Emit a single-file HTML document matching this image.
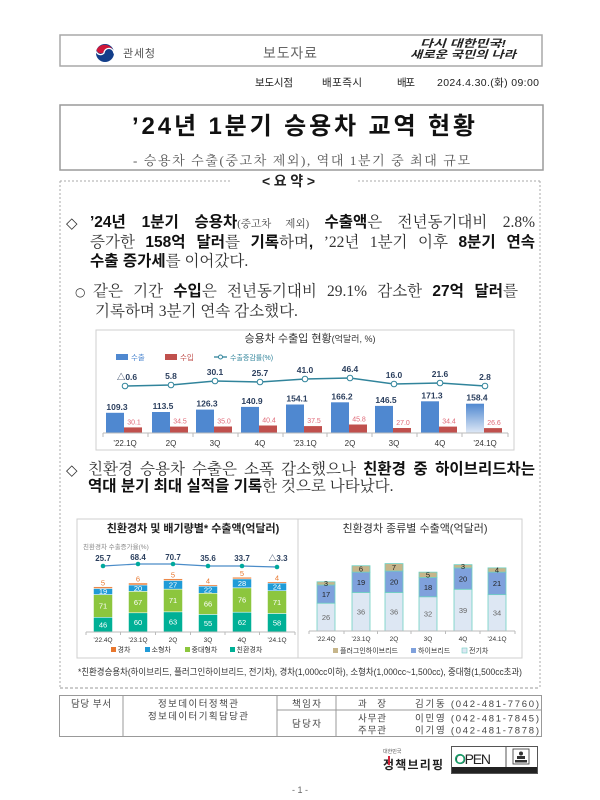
<!DOCTYPE html>
<html><head><meta charset="utf-8">
<style>
html,body{margin:0;padding:0;background:#fff;}
body{width:600px;height:800px;position:relative;overflow:hidden;}
.l{position:absolute;font-family:"Liberation Serif","Noto Serif CJK SC",serif;font-size:15.5px;line-height:20px;color:#333;}
.j{text-align:justify;text-align-last:justify;}
.l b{font-family:"Liberation Sans","Noto Sans CJK KR",sans-serif;font-weight:700;color:#111;}
.l small{font-size:10.5px;color:#444;}
.sym{position:absolute;font-family:"DejaVu Sans",sans-serif;font-size:15px;line-height:20px;color:#333;}
svg{position:absolute;left:0;top:0;}
svg text{font-family:"Liberation Sans","Noto Sans CJK KR",sans-serif;}
</style></head><body>
<svg width="600" height="800" viewBox="0 0 600 800">
<defs>
<linearGradient id="g1" x1="0" y1="0" x2="0" y2="1"><stop offset="0" stop-color="#4f88d0"/><stop offset="1" stop-color="#dfe9f6"/></linearGradient>
</defs>
<!-- header -->
<rect x="60" y="35" width="482" height="31" fill="none" stroke="#a8a8a8" stroke-width="1.5"/>
<circle cx="105" cy="53" r="9" fill="#123e8a"/>
<path d="M96.5,50 A9,9 0 0 1 113.5,52 A5,5 0 0 0 104,52 A4.5,4.5 0 0 1 96.5,50 Z" fill="#cf1639"/>
<path d="M96.3,51.5 A4.5,4.5 0 0 0 104,53 A4.8,4.8 0 0 1 113.8,53.5" fill="none" stroke="#fff" stroke-width="1.3"/>
<text x="123" y="57" font-size="11" fill="#555" textLength="32">관세청</text>
<text x="263" y="58" font-size="14" fill="#666" textLength="54">보도자료</text>
<text x="420" y="47" font-size="10.5" font-style="italic" font-weight="700" fill="#222" textLength="86" lengthAdjust="spacingAndGlyphs">다시 대한민국!</text>
<text x="410" y="58" font-size="10.5" font-style="italic" font-weight="700" fill="#222" textLength="106" lengthAdjust="spacingAndGlyphs">새로운 국민의 나라</text>
<text x="255" y="86" font-size="10.5" fill="#222" textLength="38">보도시점</text>
<text x="322" y="86" font-size="10.5" fill="#222" textLength="40">배포즉시</text>
<text x="397" y="86" font-size="10.5" fill="#222" textLength="18">배포</text>
<text x="437" y="86" font-size="10.5" fill="#222" textLength="102">2024.4.30.(화) 09:00</text>
<!-- title -->
<rect x="60" y="105" width="483" height="65" fill="none" stroke="#9a9a9a" stroke-width="1.5"/>
<text x="132" y="134" font-size="24" font-weight="700" fill="#111" textLength="343">’24년 1분기 승용차 교역 현황</text>
<text x="133" y="165" font-size="13" fill="#555" style="font-family:'Liberation Serif','Noto Serif CJK SC',serif" textLength="337">- 승용차 수출(중고차 제외), 역대 1분기 중 최대 규모</text>
<!-- summary box -->
<path d="M60 181 H232 M358 181 H540 M60 181 V688 M540 181 V688" stroke="#aaa" stroke-width="1" stroke-dasharray="2,2" fill="none"/>
<path d="M60 688 H540" stroke="#999" stroke-width="1" stroke-dasharray="3,2" fill="none"/>
<text x="262" y="186" font-size="14" font-weight="700" fill="#222" textLength="53">&lt; 요 약 &gt;</text>

<!-- chart 1 -->
<rect x="96" y="330" width="418" height="120" fill="#fff" stroke="#cfcfcf" stroke-width="1"/>
<text x="310" y="342" font-size="11" fill="#333" text-anchor="middle">승용차 수출입 현황<tspan font-size="9">(억달러, %)</tspan></text>
<rect x="116" y="354" width="12" height="6" fill="#4f88d0"/>
<text x="131" y="360" font-size="7.5" fill="#4f88d0">수출</text>
<rect x="165" y="354" width="12" height="6" fill="#c0504d"/>
<text x="180" y="360" font-size="7.5" fill="#c0504d">수입</text>
<line x1="214" y1="357" x2="227" y2="357" stroke="#31849b" stroke-width="1.3"/>
<circle cx="220.5" cy="357" r="2" fill="#fff" stroke="#31849b"/>
<text x="230" y="360" font-size="7" fill="#31849b">수출증감률(%)</text>
<g fill="#4f88d0">
<rect x="106" y="412.8" width="18" height="20.2"/>
<rect x="152" y="412.0" width="18" height="21.0"/>
<rect x="196" y="409.6" width="18" height="23.4"/>
<rect x="241" y="406.9" width="18" height="26.1"/>
<rect x="286" y="404.5" width="18" height="28.5"/>
<rect x="331" y="402.3" width="18" height="30.7"/>
<rect x="375" y="405.9" width="18" height="27.1"/>
<rect x="421" y="401.3" width="18" height="31.7"/>
</g>
<rect x="466" y="403.7" width="18" height="29.3" fill="url(#g1)"/>
<g fill="#c0504d">
<rect x="124" y="427.4" width="18" height="5.6"/>
<rect x="170" y="426.6" width="18" height="6.4"/>
<rect x="214" y="426.5" width="18" height="6.5"/>
<rect x="259" y="425.5" width="18" height="7.5"/>
<rect x="304" y="426.1" width="18" height="6.9"/>
<rect x="349" y="424.5" width="18" height="8.5"/>
<rect x="393" y="428.0" width="18" height="5.0"/>
<rect x="439" y="426.6" width="18" height="6.4"/>
<rect x="484" y="428.1" width="18" height="4.9"/>
</g>
<g font-size="8.5" font-weight="700" fill="#2b3f5e" text-anchor="middle">
<text x="117" y="409.8">109.3</text>
<text x="163" y="409.0">113.5</text>
<text x="207" y="406.6">126.3</text>
<text x="252" y="403.9">140.9</text>
<text x="297" y="401.5">154.1</text>
<text x="342" y="399.3">166.2</text>
<text x="386" y="402.9">146.5</text>
<text x="432" y="398.3">171.3</text>
<text x="477" y="400.7">158.4</text>
</g>
<g font-size="7" fill="#e06a78" text-anchor="middle">
<text x="134" y="424.4">30.1</text>
<text x="180" y="423.6">34.5</text>
<text x="224" y="423.5">35.0</text>
<text x="269" y="422.5">40.4</text>
<text x="314" y="423.1">37.5</text>
<text x="359" y="421.5">45.8</text>
<text x="403" y="425.0">27.0</text>
<text x="449" y="423.6">34.4</text>
<text x="494" y="425.1">26.6</text>
</g>
<line x1="103" y1="433" x2="508" y2="433" stroke="#bbb" stroke-width="1"/>
<g stroke="#bbb" stroke-width="1">
<line x1="103" y1="433" x2="103" y2="437"/><line x1="148" y1="433" x2="148" y2="437"/><line x1="193" y1="433" x2="193" y2="437"/><line x1="238" y1="433" x2="238" y2="437"/><line x1="283" y1="433" x2="283" y2="437"/><line x1="327" y1="433" x2="327" y2="437"/><line x1="372" y1="433" x2="372" y2="437"/><line x1="417" y1="433" x2="417" y2="437"/><line x1="462" y1="433" x2="462" y2="437"/><line x1="508" y1="433" x2="508" y2="437"/>
</g>
<g font-size="8" fill="#333" text-anchor="middle">
<text x="125" y="446">’22.1Q</text><text x="171" y="446">2Q</text><text x="215" y="446">3Q</text><text x="260" y="446">4Q</text><text x="305" y="446">’23.1Q</text><text x="350" y="446">2Q</text><text x="394" y="446">3Q</text><text x="440" y="446">4Q</text><text x="485" y="446">’24.1Q</text>
</g>
<polyline points="125,386 171,385 215,381 260,382 305,379 350,378 394,384 440,383 485,386" fill="none" stroke="#31849b" stroke-width="1.5"/>
<g fill="#fff" stroke="#31849b" stroke-width="1">
<circle cx="125" cy="386" r="2.8"/><circle cx="171" cy="385" r="2.8"/><circle cx="215" cy="381" r="2.8"/><circle cx="260" cy="382" r="2.8"/><circle cx="305" cy="379" r="2.8"/><circle cx="350" cy="378" r="2.8"/><circle cx="394" cy="384" r="2.8"/><circle cx="440" cy="383" r="2.8"/><circle cx="485" cy="386" r="2.8"/>
</g>
<g font-size="8.5" font-weight="700" fill="#2b3f5e" text-anchor="middle">
<text x="127" y="380">△0.6</text><text x="171" y="379">5.8</text><text x="215" y="375">30.1</text><text x="260" y="376">25.7</text><text x="305" y="373">41.0</text><text x="350" y="372">46.4</text><text x="394" y="378">16.0</text><text x="440" y="377">21.6</text><text x="485" y="380">2.8</text>
</g>

<!-- charts 2 box -->
<rect x="77" y="519" width="445" height="139" fill="#fff" stroke="#cfcfcf" stroke-width="1"/>
<line x1="298" y1="519" x2="298" y2="658" stroke="#cfcfcf" stroke-width="1"/>

<!-- left chart -->
<text x="193" y="532" font-size="11" font-weight="700" fill="#222" text-anchor="middle">친환경차 및 배기량별* 수출액(억달러)</text>
<text x="83" y="549" font-size="6.5" fill="#888">친환경차 수출증가율(%)</text>
<g stroke="#fff" stroke-width="0.5">
<rect x="93.5" y="617.28" width="19" height="14.72" fill="#00b096"/>
<rect x="93.5" y="594.56" width="19" height="22.72" fill="#8cc63e"/>
<rect x="93.5" y="588.48" width="19" height="6.08" fill="#1f9bd7"/>
<rect x="93.5" y="586.88" width="19" height="1.6" fill="#e8772e"/>
<rect x="128.5" y="612.8" width="19" height="19.2" fill="#00b096"/>
<rect x="128.5" y="591.36" width="19" height="21.44" fill="#8cc63e"/>
<rect x="128.5" y="584.96" width="19" height="6.4" fill="#1f9bd7"/>
<rect x="128.5" y="583.04" width="19" height="1.92" fill="#e8772e"/>
<rect x="163.5" y="611.84" width="19" height="20.16" fill="#00b096"/>
<rect x="163.5" y="589.12" width="19" height="22.72" fill="#8cc63e"/>
<rect x="163.5" y="580.48" width="19" height="8.64" fill="#1f9bd7"/>
<rect x="163.5" y="578.88" width="19" height="1.6" fill="#e8772e"/>
<rect x="198.5" y="614.4" width="19" height="17.6" fill="#00b096"/>
<rect x="198.5" y="593.28" width="19" height="21.12" fill="#8cc63e"/>
<rect x="198.5" y="586.24" width="19" height="7.04" fill="#1f9bd7"/>
<rect x="198.5" y="584.96" width="19" height="1.28" fill="#e8772e"/>
<rect x="232.5" y="612.16" width="19" height="19.84" fill="#00b096"/>
<rect x="232.5" y="587.84" width="19" height="24.32" fill="#8cc63e"/>
<rect x="232.5" y="578.88" width="19" height="8.96" fill="#1f9bd7"/>
<rect x="232.5" y="577.28" width="19" height="1.6" fill="#e8772e"/>
<rect x="267.5" y="613.44" width="19" height="18.56" fill="#00b096"/>
<rect x="267.5" y="590.72" width="19" height="22.72" fill="#8cc63e"/>
<rect x="267.5" y="583.04" width="19" height="7.68" fill="#1f9bd7"/>
<rect x="267.5" y="581.76" width="19" height="1.28" fill="#e8772e"/>
</g>
<g font-size="7.5" fill="#fff" text-anchor="middle">
<text x="103" y="627.3">46</text><text x="103" y="608.6">71</text><text x="103" y="594.2">19</text>
<text x="138" y="625.1">60</text><text x="138" y="604.8">67</text><text x="138" y="590.9">20</text>
<text x="173" y="624.6">63</text><text x="173" y="603.2">71</text><text x="173" y="587.5">27</text>
<text x="208" y="625.9">55</text><text x="208" y="606.5">66</text><text x="208" y="592.5">22</text>
<text x="242" y="624.8">62</text><text x="242" y="602.7">76</text><text x="242" y="586.1">28</text>
<text x="277" y="625.4">58</text><text x="277" y="604.8">71</text><text x="277" y="589.6">24</text>
</g>
<g font-size="7.5" fill="#e8772e" text-anchor="middle">
<text x="103" y="585.4">5</text><text x="138" y="581.5">6</text><text x="173" y="577.4">5</text><text x="208" y="583.5">4</text><text x="242" y="575.8">5</text><text x="277" y="580.3">4</text>
</g>
<line x1="86" y1="632" x2="295" y2="632" stroke="#bbb" stroke-width="1"/>
<g stroke="#bbb"><line x1="86" y1="632" x2="86" y2="635"/><line x1="120.5" y1="632" x2="120.5" y2="635"/><line x1="155.5" y1="632" x2="155.5" y2="635"/><line x1="190.5" y1="632" x2="190.5" y2="635"/><line x1="225" y1="632" x2="225" y2="635"/><line x1="259.5" y1="632" x2="259.5" y2="635"/><line x1="295" y1="632" x2="295" y2="635"/></g>
<g font-size="6.5" fill="#333" text-anchor="middle">
<text x="103" y="642">’22.4Q</text><text x="138" y="642">’23.1Q</text><text x="173" y="642">2Q</text><text x="208" y="642">3Q</text><text x="242" y="642">4Q</text><text x="277" y="642">’24.1Q</text>
</g>
<polyline points="103,566 138,564 173,564 208,566 242,566 277,567" fill="none" stroke="#4a8cc8" stroke-width="1.2"/>
<g fill="#00a99d">
<circle cx="103" cy="566" r="2.3"/><circle cx="138" cy="564" r="2.3"/><circle cx="173" cy="564" r="2.3"/><circle cx="208" cy="566" r="2.3"/><circle cx="242" cy="566" r="2.3"/><circle cx="277" cy="567" r="2.3"/>
</g>
<g font-size="8" font-weight="700" fill="#2b3f5e" text-anchor="middle">
<text x="103" y="561">25.7</text><text x="138" y="560">68.4</text><text x="173" y="560">70.7</text><text x="208" y="561">35.6</text><text x="242" y="561">33.7</text><text x="278" y="561">△3.3</text>
</g>
<rect x="111" y="647" width="5" height="5" fill="#e8772e"/><text x="117.5" y="652" font-size="7" fill="#333">경차</text>
<rect x="145" y="647" width="5" height="5" fill="#1f9bd7"/><text x="151.5" y="652" font-size="7" fill="#333">소형차</text>
<rect x="185" y="647" width="5" height="5" fill="#8cc63e"/><text x="191.5" y="652" font-size="7" fill="#333">중대형차</text>
<rect x="230" y="647" width="5" height="5" fill="#00b096"/><text x="236.5" y="652" font-size="7" fill="#333">친환경차</text>

<!-- right chart -->
<text x="415" y="532" font-size="11" fill="#333" text-anchor="middle">친환경차 종류별 수출액(억달러)</text>
<g stroke="#6fd0c2" stroke-width="0.8">
<rect x="317" y="603.18" width="18" height="27.82" fill="#dde7f3"/>
<rect x="317" y="584.99" width="18" height="18.19" fill="#7fa1dc"/>
<rect x="317" y="581.78" width="18" height="3.21" fill="#c6b58a"/>
<rect x="352" y="592.48" width="18" height="38.52" fill="#dde7f3"/>
<rect x="352" y="572.15" width="18" height="20.33" fill="#7fa1dc"/>
<rect x="352" y="565.73" width="18" height="6.42" fill="#c6b58a"/>
<rect x="385" y="592.48" width="18" height="38.52" fill="#dde7f3"/>
<rect x="385" y="571.08" width="18" height="21.4" fill="#7fa1dc"/>
<rect x="385" y="563.59" width="18" height="7.49" fill="#c6b58a"/>
<rect x="419" y="596.76" width="18" height="34.24" fill="#dde7f3"/>
<rect x="419" y="577.5" width="18" height="19.26" fill="#7fa1dc"/>
<rect x="419" y="572.15" width="18" height="5.35" fill="#c6b58a"/>
<rect x="454" y="589.27" width="18" height="41.73" fill="#dde7f3"/>
<rect x="454" y="567.87" width="18" height="21.4" fill="#7fa1dc"/>
<rect x="454" y="564.66" width="18" height="3.21" fill="#c6b58a"/>
<rect x="488" y="594.62" width="18" height="36.38" fill="#dde7f3"/>
<rect x="488" y="572.15" width="18" height="22.47" fill="#7fa1dc"/>
<rect x="488" y="567.87" width="18" height="4.28" fill="#c6b58a"/>
</g>
<g font-size="7.5" fill="#666" text-anchor="middle">
<text x="326" y="619.8">26</text><text x="361" y="614.5">36</text><text x="394" y="614.5">36</text><text x="428" y="616.6">32</text><text x="463" y="612.8">39</text><text x="497" y="615.5">34</text>
</g>
<g font-size="7.5" fill="#222" text-anchor="middle">
<text x="326" y="596.8">17</text><text x="361" y="585">19</text><text x="394" y="584.5">20</text><text x="428" y="589.8">18</text><text x="463" y="581.3">20</text><text x="497" y="586.1">21</text>
<text x="326" y="586">3</text><text x="361" y="571.6">6</text><text x="394" y="570">7</text><text x="428" y="577.5">5</text><text x="463" y="568.9">3</text><text x="497" y="572.7">4</text>
</g>
<line x1="309" y1="631" x2="515" y2="631" stroke="#bbb" stroke-width="1"/>
<g stroke="#bbb"><line x1="309" y1="631" x2="309" y2="634"/><line x1="344" y1="631" x2="344" y2="634"/><line x1="377.5" y1="631" x2="377.5" y2="634"/><line x1="411" y1="631" x2="411" y2="634"/><line x1="445.5" y1="631" x2="445.5" y2="634"/><line x1="480" y1="631" x2="480" y2="634"/><line x1="515" y1="631" x2="515" y2="634"/></g>
<g font-size="6.5" fill="#333" text-anchor="middle">
<text x="326" y="641">’22.4Q</text><text x="361" y="641">’23.1Q</text><text x="394" y="641">2Q</text><text x="428" y="641">3Q</text><text x="463" y="641">4Q</text><text x="497" y="641">’24.1Q</text>
</g>
<rect x="333" y="648" width="5" height="5" fill="#c6b58a"/><text x="340" y="653" font-size="7" fill="#333">플러그인하이브리드</text>
<rect x="411" y="648" width="5" height="5" fill="#7fa1dc"/><text x="418" y="653" font-size="7" fill="#333">하이브리드</text>
<rect x="462" y="648" width="5" height="5" fill="#dde7f3" stroke="#6fd0c2" stroke-width="0.6"/><text x="469" y="653" font-size="7" fill="#333">전기차</text>

<!-- footnote -->
<text x="78" y="675" font-size="9" fill="#333" textLength="444" lengthAdjust="spacingAndGlyphs">*친환경승용차(하이브리드, 플러그인하이브리드, 전기차), 경차(1,000cc이하), 소형차(1,000cc~1,500cc), 중대형(1,500cc초과)</text>

<!-- footer table -->
<rect x="59.5" y="695.5" width="482" height="41" fill="none" stroke="#999" stroke-width="1"/>
<g stroke="#999" stroke-width="1">
<line x1="123" y1="695.5" x2="123" y2="736.5"/>
<line x1="277" y1="695.5" x2="277" y2="736.5"/>
<line x1="336" y1="695.5" x2="336" y2="736.5"/>
<line x1="277" y1="710" x2="541.5" y2="710"/>
</g>
<g font-size="9.5" fill="#444">
<text x="71" y="707" textLength="40">담당 부서</text>
<text x="158" y="707" textLength="80">정보데이터정책관</text>
<text x="148" y="719.5" textLength="100">정보데이터기획담당관</text>
<text x="292" y="707" textLength="29">책임자</text>
<text x="292" y="727" textLength="29">담당자</text>
<text x="358" y="707" textLength="28">과  장</text>
<text x="358" y="721.5" textLength="28">사무관</text>
<text x="358" y="733.5" textLength="28">주무관</text>
<text x="415" y="707" textLength="124">김기동 (042-481-7760)</text>
<text x="415" y="721.5" textLength="124">이민영 (042-481-7845)</text>
<text x="415" y="733.5" textLength="124">이기영 (042-481-7878)</text>
</g>

<!-- bottom logos -->
<text x="383" y="753" font-size="5" fill="#555">대한민국</text>
<text x="383" y="769" font-size="12" font-weight="700" fill="#222" textLength="60">정책브리핑</text>
<rect x="388" y="756" width="2" height="9" fill="#d3243a"/>
<rect x="451.5" y="746.5" width="86" height="27" fill="#fff" stroke="#555" stroke-width="1"/>
<text x="455" y="764" font-size="14" fill="#222" textLength="36">OPEN</text>
<circle cx="460" cy="759" r="4.3" fill="none" stroke="#1aa06b" stroke-width="1.6"/>
<line x1="506" y1="747" x2="506" y2="767" stroke="#555"/>
<rect x="513" y="749" width="16" height="15" fill="#fff" stroke="#333" stroke-width="0.8"/>
<circle cx="521" cy="753.5" r="2" fill="#333"/>
<rect x="517" y="756" width="8" height="3" fill="#333"/>
<rect x="515" y="760" width="12" height="2.5" fill="#333"/>
<rect x="452" y="767" width="85" height="6" fill="#222"/>
<text x="300" y="793" font-size="9" fill="#666" text-anchor="middle">- 1 -</text>
</svg>

<!-- paragraphs -->
<div class="sym" style="left:66px;top:213px;">◇</div>
<div class="l j" style="left:90px;top:213px;width:445px;"><b>’24년 1분기 승용차</b><small>(중고차 제외)</small> <b>수출액</b>은 전년동기대비 2.8%</div>
<div class="l j" style="left:90px;top:233px;width:445px;">증가한 <b>158억 달러</b>를 <b>기록</b>하며<b>,</b> ’22년 1분기 이후 <b>8분기 연속</b></div>
<div class="l" style="left:90px;top:252px;"><b>수출 증가세</b>를 이어갔다.</div>

<div class="sym" style="left:75px;top:282px;font-size:12px;">○</div>
<div class="l j" style="left:93px;top:282px;width:425px;">같은 기간 <b>수입</b>은 전년동기대비 29.1% 감소한 <b>27억 달러</b>를</div>
<div class="l" style="left:95px;top:302px;">기록하며 3분기 연속 감소했다.</div>

<div class="sym" style="left:66px;top:460px;">◇</div>
<div class="l j" style="left:88px;top:460px;width:447px;">친환경 승용차 수출은 소폭 감소했으나 <b>친환경 중 하이브리드차는</b></div>
<div class="l" style="left:88px;top:477px;"><b>역대 분기 최대 실적을 기록</b>한 것으로 나타났다.</div>
</body></html>
